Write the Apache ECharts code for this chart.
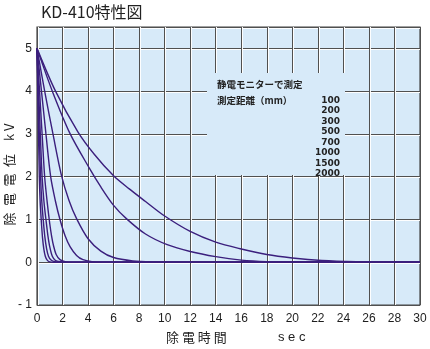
<!DOCTYPE html>
<html>
<head>
<meta charset="utf-8">
<script src="https://cdn.jsdelivr.net/npm/echarts@6/dist/echarts.min.js"></script>
<style>
  html, body { margin: 0; padding: 0; background: #ffffff; }
  #chart { width: 430px; height: 349px; }
</style>
</head>
<body>
<div id="chart"></div>
<script>
// Decay of the charged potential (kV) over time (sec), one curve per monitor distance
const distances = ['100', '200', '300', '500', '700', '1000', '1500', '2000'];

const curve100 = [[0,5],[0.06,4],[0.12,3],[0.18,2],[0.25,1.4],[0.34,0.95],[0.43,0.58],[0.53,0.32],[0.65,0.14],[0.8,0.05],[1.0,0.01],[1.3,0],[30,0]];
const curve200 = [[0,5],[0.09,4],[0.18,3],[0.28,2],[0.38,1.4],[0.5,0.95],[0.62,0.58],[0.75,0.32],[0.9,0.14],[1.1,0.05],[1.4,0.01],[1.8,0],[30,0]];
const curve300 = [[0,5],[0.13,4],[0.26,3],[0.4,2],[0.55,1.4],[0.72,0.95],[0.85,0.63],[1.0,0.36],[1.2,0.14],[1.45,0.04],[1.8,0.01],[2.3,0],[30,0]];
const curve500 = [[0,5],[0.2,4],[0.4,3],[0.6,2],[0.8,1.4],[1.0,0.9],[1.15,0.6],[1.3,0.38],[1.5,0.18],[1.8,0.06],[2.2,0.015],[2.8,0],[30,0]];
const curve700 = [[0,5],[0.35,4],[0.7,3],[1.07,2],[1.45,1.42],[1.8,1.0],[2.2,0.62],[2.6,0.36],[3.1,0.16],[3.6,0.06],[4.3,0.015],[5.2,0],[30,0]];
const curve1000 = [[0,5],[0.6,4],[1.25,3],[1.9,2.05],[2.5,1.45],[3.1,1.02],[4,0.55],[5,0.26],[6,0.11],[7.5,0.03],[9,0.005],[11,0],[30,0]];
const curve1500 = [[0,5],[1.2,4],[2.6,3.0],[4.1,2.2],[5,1.76],[6,1.33],[7,1.02],[8.5,0.66],[10.2,0.41],[12,0.25],[14,0.13],[16,0.05],[18,0.015],[21,0],[30,0]];
const curve2000 = [[0,5],[1.45,4],[3.2,3.05],[4.5,2.52],[6,2.02],[7.2,1.72],[8.5,1.42],[10,1.08],[12,0.72],[14,0.47],[16,0.31],[18,0.18],[20,0.1],[22.3,0.04],[25,0.01],[28,0],[30,0]];

const curves = [curve100, curve200, curve300, curve500, curve700, curve1000, curve1500, curve2000];

const xTicks = { min: 0, max: 30, step: 2 };
const yTicks = { min: -1, max: 5.5, step: 1 };

const chart = echarts.init(document.getElementById('chart'), null, { renderer: 'canvas' });

const lineColor = '#3b1f7d';
const gridColor = '#505050';
const plotBg = '#d7eaf9';
const textColor = '#1e1e1e';
const cjk = '"Noto Sans CJK JP", "Noto Sans", sans-serif';
const latin = '"Liberation Sans", Arial, sans-serif';

const series = curves.map((pts, i) => ({
  name: distances[i],
  type: 'line',
  data: pts,
  showSymbol: false,
  symbol: 'none',
  smooth: 0.3,
  lineStyle: { color: lineColor, width: 1.4 },
  z: 5,
  silent: true
}));

// Legend block: caption plus the distance list, drawn over a patch of plot colour
const legendRows = distances.map((d, i) => ({
  type: 'text',
  right: 90,
  top: 96 + i * 10.5,
  style: { text: d, font: 'bold 9px "DejaVu Sans", sans-serif', fill: '#222', textAlign: 'right' },
  z: 20
}));

const option = {
  animation: false,
  backgroundColor: '#ffffff',
  title: {
    text: 'KD-410特性図',
    left: 36,
    top: -1,
    textStyle: { fontFamily: cjk, fontSize: 16, fontWeight: 'normal', color: '#222' }
  },
  grid: {
    left: 37, right: 10, top: 27, bottom: 44,
    show: true,
    backgroundColor: plotBg,
    borderColor: '#454545',
    borderWidth: 1.2
  },
  xAxis: {
    type: 'value',
    min: xTicks.min, max: xTicks.max, interval: xTicks.step,
    axisLine: { show: false },
    axisTick: { show: false },
    axisLabel: { color: textColor, fontFamily: latin, fontSize: 12, margin: 8 },
    splitLine: { show: true, lineStyle: { color: gridColor, width: 1, shadowColor: 'rgba(255,255,255,0.95)', shadowOffsetX: 1 } }
  },
  yAxis: {
    type: 'value',
    min: yTicks.min, max: yTicks.max, interval: yTicks.step,
    axisLine: { show: false },
    axisTick: { show: false },
    axisLabel: {
      color: textColor, fontFamily: latin, fontSize: 12, margin: 5,
      formatter: v => (v === -1 ? '- 1' : (Number.isInteger(v) ? String(v) : ''))
    },
    splitLine: { show: true, lineStyle: { color: gridColor, width: 1, shadowColor: 'rgba(255,255,255,0.95)', shadowOffsetY: 1 } }
  },
  graphic: [
    {
      type: 'rect',
      shape: { x: 207, y: 73, width: 138, height: 102 },
      style: { fill: plotBg },
      z: 10
    },
    {
      type: 'text',
      left: 217, top: 80,
      style: { text: '静電モニターで測定', font: 'bold 9.5px ' + cjk, fill: '#222' },
      z: 20
    },
    {
      type: 'text',
      left: 217, top: 96,
      style: { text: '測定距離（mm）', font: 'bold 9.5px ' + cjk, fill: '#222' },
      z: 20
    },
    ...legendRows,
    {
      type: 'text',
      left: 166, top: 331,
      style: { text: '除 電 時 間', font: '13px ' + cjk, fill: textColor },
      z: 20
    },
    {
      type: 'text',
      left: 278, top: 331,
      style: { text: 's e c', font: '13px ' + latin, fill: textColor },
      z: 20
    },
    {
      type: 'text',
      x: 9, y: 174.5,
      rotation: Math.PI / 2,
      style: { text: '除\u2002電\u2002電\u2002位\u3000k V', font: '13px ' + cjk, fill: textColor, textAlign: 'center', textVerticalAlign: 'middle' },
      z: 20
    }
  ],
  series: series
};

chart.setOption(option);
</script>
</body>
</html>
